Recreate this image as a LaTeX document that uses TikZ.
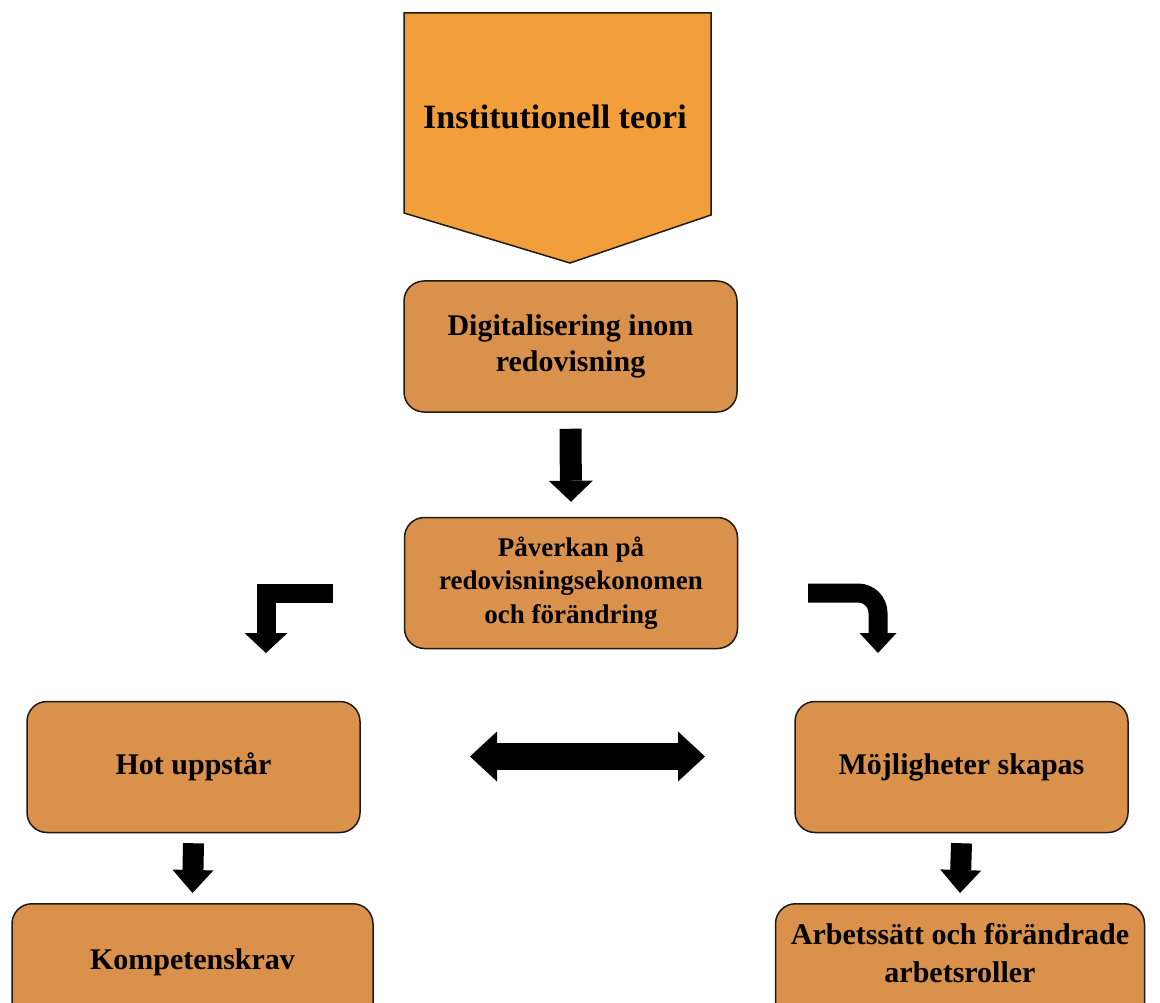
\documentclass[tikz,border=0pt]{standalone}
\usepackage{fontspec}
\setmainfont{Liberation Serif}
\usetikzlibrary{arrows.meta}
\definecolor{boxfill}{HTML}{D9914B}
\definecolor{pentfill}{HTML}{F29E3A}
\definecolor{edge}{HTML}{1E1A16}
\tikzset{
  box/.style={draw=edge, line width=1.5pt, fill=boxfill, rounded corners=20pt,
    minimum width=333pt, minimum height=131pt, align=center, inner sep=0pt,
    font=\bfseries\fontsize{30}{36}\selectfont},
  txt/.style={align=center, inner sep=0pt, font=\bfseries\fontsize{30}{38}\selectfont},
  blk/.style={draw=black, line cap=butt, line join=miter},
}
\begin{document}
\begin{tikzpicture}[x=1pt, y=-1pt]
\useasboundingbox (0,0) rectangle (1160,1003);
\clip (0,0) rectangle (1160,1003);
\fill[white] (0,0) rectangle (1160,1003);
% pentagon
\draw[draw=edge, line width=1.5pt, fill=pentfill]
  (404,13) -- (711,13) -- (711,215) -- (570,263) -- (404,213) -- cycle;
\node[anchor=west, inner sep=0pt, font=\bfseries\fontsize{34}{40}\selectfont] (inst) at (423,117) {Institutionell teori};
% boxes
\node[box] (dig) at (570.5,346.5) {Digitalisering inom\\redovisning};
\node[box, font=\bfseries\fontsize{27}{33.5}\selectfont] (pav) at (571,583) {Påverkan på\\redovisningsekonomen\\och förändring};
\node[box] (hot) at (193.5,767) {Hot uppstår};
\node[box] (moj) at (961.5,767) {Möjligheter skapas};
\node[box, anchor=north, minimum width=361pt, minimum height=150pt] (komp) at (192.5,903) {};
\node[txt] (kompt) at (192.5,962) {Kompetenskrav};
\node[box, anchor=north, minimum width=369pt, minimum height=150pt] (arb) at (960,903) {};
\node[txt] (arbt) at (960,953) {Arbetssätt och förändrade\\arbetsroller};
% connectors
\coordinate (ls) at (333,593);
\coordinate (lc) at (266,593);
\coordinate (le) at (266,653);
\coordinate (rs) at (808,593);
\coordinate (rc) at (878,593);
\coordinate (re) at (878,653);
\coordinate (dl) at (470,756.5);
\coordinate (dr) at (705,756.5);
\draw[blk, line width=22pt, -{Triangle[width=44pt,length=21pt,line width=0pt]}]
  ([yshift=-16pt]dig.south) -- ([yshift=15pt]pav.north);
\draw[blk, line width=19pt, -{Triangle[width=43pt,length=20pt,line width=0pt]}]
  (ls) -- (lc) -- (le);
\draw[blk, line width=19pt, rounded corners=20pt, -{Triangle[width=37pt,length=20pt,line width=0pt]}]
  (rs) -- (rc) -- (re);
\draw[blk, line width=27pt, {Triangle[width=50pt,length=27pt,line width=0pt]}-{Triangle[width=50pt,length=27pt,line width=0pt]}]
  (dl) -- (dr);
\draw[blk, line width=21pt, -{Triangle[width=41pt,length=23pt,line width=0pt]}]
  ([yshift=-10pt]hot.south) -- ([yshift=10pt]komp.north);
\draw[blk, line width=21pt, -{Triangle[width=41pt,length=23pt,line width=0pt]}]
  ([yshift=-10pt]moj.south) -- ([yshift=10pt]arb.north);
\end{tikzpicture}
\end{document}
